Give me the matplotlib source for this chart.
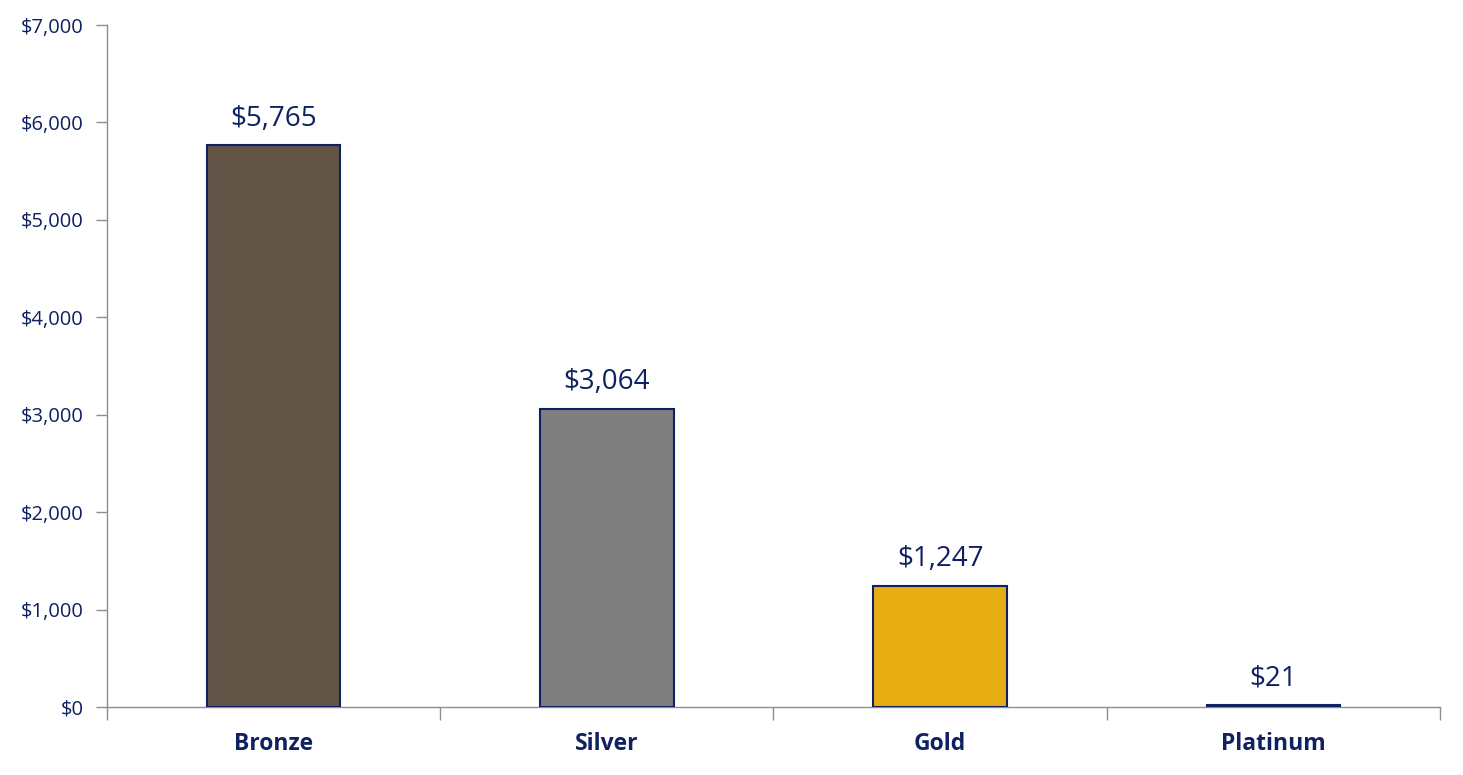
import matplotlib
matplotlib.use("Agg")
import matplotlib.pyplot as plt
from matplotlib.ticker import FuncFormatter, FixedLocator

plt.rcParams['font.family'] = ['Open Sans', 'DejaVu Sans']

tiers = ["Bronze", "Silver", "Gold", "Platinum"]
values = [5765, 3064, 1247, 21]
colors = ["#625548", "#7F7F7F", "#E6AE12", "#0B1F5C"]
yticks = [0, 1000, 2000, 3000, 4000, 5000, 6000, 7000]

navy = "#0F2160"
axis_gray = "#8C8C9A"

fig = plt.figure(figsize=(14.63, 7.75), dpi=100)
ax = fig.add_axes([0.0731, 0.0877, 0.9112, 0.88])

x = range(len(tiers))
bars = ax.bar(x, values, width=0.40, color=colors, edgecolor=navy, linewidth=1.5, zorder=3)

for b, v in zip(bars, values):
    ax.annotate("${:,}".format(v), (b.get_x() + b.get_width() / 2, v),
                xytext=(0, 9), textcoords="offset points",
                ha="center", va="bottom", fontsize=20, color=navy)

ax.set_xlim(-0.5, len(tiers) - 0.5)
ax.set_ylim(0, 7000)
ax.set_yticks(yticks)
ax.yaxis.set_major_formatter(FuncFormatter(lambda v, p: "${:,.0f}".format(v)))

ax.set_xticks(list(x))
ax.set_xticklabels(tiers, fontsize=16.5, fontweight="bold", color=navy)
ax.xaxis.set_minor_locator(FixedLocator([i - 0.5 for i in range(len(tiers) + 1)]))
ax.tick_params(axis="x", which="major", length=0, pad=18)
ax.tick_params(axis="x", which="minor", length=9, color=axis_gray, width=1)
ax.tick_params(axis="y", length=8, color=axis_gray, width=1, labelsize=14.5, labelcolor=navy, pad=9)

for s in ["top", "right"]:
    ax.spines[s].set_visible(False)
for s in ["left", "bottom"]:
    ax.spines[s].set_color(axis_gray)
    ax.spines[s].set_linewidth(1)

fig.savefig("out.png", dpi=100)
